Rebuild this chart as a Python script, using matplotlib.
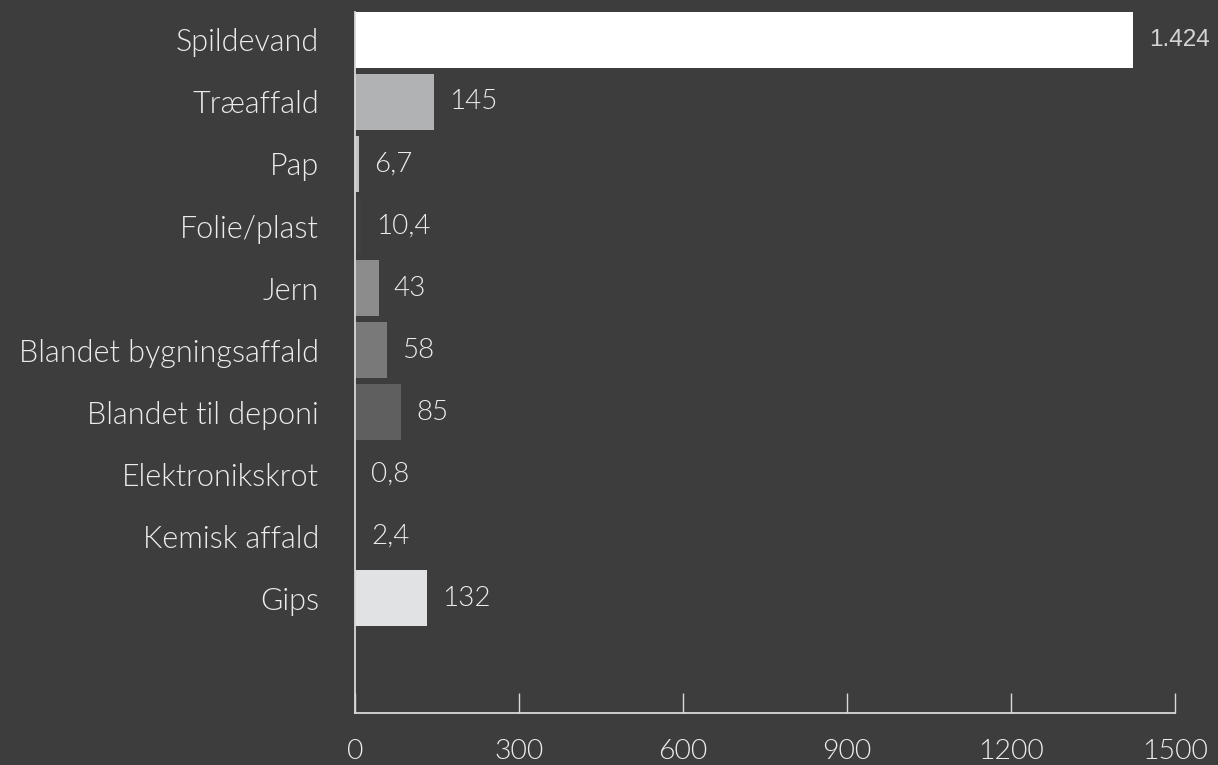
import numpy as np
import matplotlib.pyplot as plt

categories = ["Spildevand", "Træaffald", "Pap", "Folie/plast", "Jern",
              "Blandet bygningsaffald", "Blandet til deponi", "Elektronikskrot",
              "Kemisk affald", "Gips"]
values = [1424, 145, 6.7, 10.4, 43, 58, 85, 0.8, 2.4, 132]
value_labels = ["1.424", "145", "6,7", "10,4", "43", "58", "85", "0,8", "2,4", "132"]
colors = ["#ffffff", "#b1b2b4", "#c4c4c4", "#404040", "#8c8c8c",
          "#797979", "#5f5f5f", "#404040", "#404040", "#e1e2e4"]
x_ticks = [0, 300, 600, 900, 1200, 1500]

bg = "#3d3d3d"
fg = "#ececec"
plt.rcParams['font.family'] = ['Lato', 'DejaVu Sans']
plt.rcParams['font.weight'] = 300

fig = plt.figure(figsize=(12.18, 7.65), dpi=100, facecolor=bg)
ax = fig.add_axes([355 / 1218, 52 / 765, 820 / 1218, 701 / 765], facecolor=bg)

y = np.arange(len(categories))
ax.barh(y, values, height=0.9, color=colors)

for i, (v, lab) in enumerate(zip(values, value_labels)):
    if i == 0:
        ax.annotate(lab, (v, i), xytext=(11, 0), textcoords="offset points",
                    va="center", ha="left", color="#d4d4d4", fontsize=17.5,
                    family=['Liberation Sans'], fontweight="normal")
    else:
        ax.annotate(lab, (v, i), xytext=(11, 0), textcoords="offset points",
                    va="center", ha="left", color=fg, fontsize=20,
                    family=['Lato'], fontweight=300)

ax.set_xlim(0, 1500)
ax.set_ylim(10.85, -0.45)
ax.set_xticks(x_ticks)
ax.set_xticklabels([str(t) for t in x_ticks])
ax.set_yticks(y)
ax.set_yticklabels(categories)

for s in ["top", "right"]:
    ax.spines[s].set_visible(False)
for s in ["left", "bottom"]:
    ax.spines[s].set_color("#d9d9d9")
    ax.spines[s].set_linewidth(1.3)

ax.tick_params(axis="x", direction="in", length=14.4, width=1, color="#d9d9d9",
               colors=fg, labelsize=20.5, pad=18.5)
ax.tick_params(axis="y", length=0, colors=fg, labelsize=22, pad=26)

fig.savefig("out.png", dpi=100, facecolor=bg)
